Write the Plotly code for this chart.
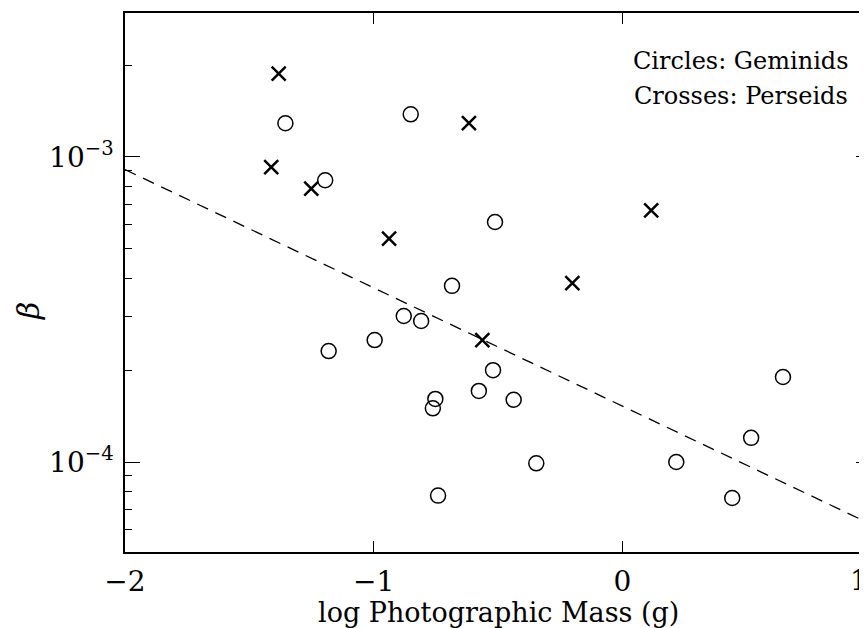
import plotly.graph_objects as go

# Geminids (circles)
gem_x = [-1.355, -1.195, -0.851, -0.512, -0.685, -1.181, -0.996, -0.879, -0.809, -0.520,
         -0.577, -0.752, -0.762, -0.437, -0.346, -0.741, 0.646, 0.518, 0.217, 0.442]
gem_y = [1.29e-3, 8.39e-4, 1.38e-3, 6.12e-4, 3.78e-4, 2.31e-4, 2.51e-4, 3.01e-4, 2.90e-4, 2.00e-4,
         1.71e-4, 1.61e-4, 1.50e-4, 1.60e-4, 9.9e-5, 7.76e-5, 1.90e-4, 1.20e-4, 1.00e-4, 7.62e-5]

# Perseids (crosses)
per_x = [-1.382, -1.412, -1.251, -0.938, -0.617, -0.563, -0.201, 0.116]
per_y = [1.875e-3, 9.27e-4, 7.87e-4, 5.40e-4, 1.29e-3, 2.51e-4, 3.86e-4, 6.68e-4]

# Fit line endpoints
fit_x = [-2.0, 1.0]
fit_y = [9.09e-4, 6.25e-5]

x_ticks = [-2, -1, 0, 1]
x_ticktext = ["\u22122", "\u22121", "0", "1"]
y_ticks = [1e-4, 1e-3]
y_ticktext = ["10<sup>\u22124</sup>", "10<sup>\u22123</sup>"]
y_minor = [6e-5, 7e-5, 8e-5, 9e-5, 2e-4, 3e-4, 4e-4, 5e-4, 6e-4, 7e-4, 8e-4, 9e-4, 2e-3]

FONT = "DejaVu Serif"

fig = go.Figure()
fig.add_trace(go.Scatter(x=fit_x, y=fit_y, mode="lines",
                         line=dict(color="black", width=1.3, dash="12px,8px"),
                         showlegend=False, hoverinfo="skip"))
fig.add_trace(go.Scatter(x=gem_x, y=gem_y, mode="markers",
                         marker=dict(symbol="circle-open", size=15, color="black",
                                     line=dict(width=1.5, color="black")),
                         showlegend=False))
fig.add_trace(go.Scatter(x=per_x, y=per_y, mode="markers",
                         marker=dict(symbol="x-thin-open", size=14, color="black",
                                     line=dict(width=2.5, color="black")),
                         showlegend=False))

# the last x tick label sits at the page edge; draw it right-aligned so it stays visible
shown_ticktext = x_ticktext[:-1] + [""]

fig.update_layout(
    width=867, height=628,
    margin=dict(l=117, r=4, t=5, b=84, autoexpand=False),
    paper_bgcolor="white", plot_bgcolor="white",
    font=dict(family=FONT, color="black"),
    showlegend=False,
    xaxis=dict(range=[-2, 1], tickmode="array", tickvals=x_ticks, ticktext=shown_ticktext,
               ticks="inside", ticklen=11, tickwidth=1.3, tickcolor="black",
               showline=True, linecolor="black", linewidth=1.5, mirror="allticks",
               showgrid=False, zeroline=False, automargin=False,
               ticklabeloverflow="allow", ticklabelstandoff=4,
               tickfont=dict(family=FONT, size=28, color="black")),
    yaxis=dict(type="log", range=[-4.295, -2.528], tickmode="array", tickvals=y_ticks,
               ticktext=y_ticktext, ticks="inside", ticklen=15, tickwidth=1.3, tickcolor="black",
               showline=True, linecolor="black", linewidth=1.5, mirror="allticks",
               showgrid=False, zeroline=False, automargin=False,
               ticklabeloverflow="allow", ticklabelstandoff=4,
               tickfont=dict(family=FONT, size=28, color="black"),
               minor=dict(tickmode="array", tickvals=y_minor, ticks="inside", ticklen=7,
                          tickwidth=1.2, tickcolor="black", showgrid=False)),
    annotations=[
        dict(text=x_ticktext[-1], xref="x", yref="paper", x=x_ticks[-1], y=0,
             xanchor="right", yanchor="middle", xshift=-1, yshift=-28, showarrow=False,
             font=dict(family=FONT, size=28, color="black")),
        dict(text="log Photographic Mass (g)", xref="paper", yref="paper", x=0.5, y=0,
             xanchor="center", yanchor="middle", yshift=-60, showarrow=False,
             font=dict(family=FONT, size=27, color="black")),
        dict(text="<i>\u03b2</i>", xref="paper", yref="paper", x=0, y=0.447,
             xanchor="center", yanchor="middle", xshift=-97, textangle=-90, showarrow=False,
             font=dict(family=FONT, size=30, color="black")),
        dict(text="Circles: Geminids", xref="paper", yref="paper", x=0.972, y=0.911,
             xanchor="right", yanchor="middle", showarrow=False,
             font=dict(family=FONT, size=24, color="black")),
        dict(text="Crosses: Perseids", xref="paper", yref="paper", x=0.972, y=0.846,
             xanchor="right", yanchor="middle", showarrow=False,
             font=dict(family=FONT, size=24, color="black")),
    ],
)

fig.write_html("out.html")
